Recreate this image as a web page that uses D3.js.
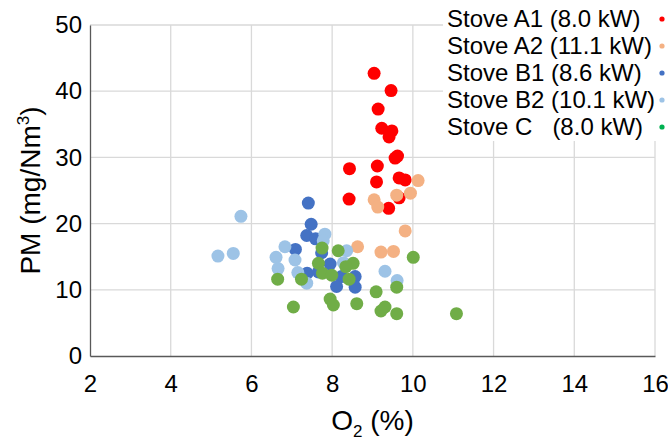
<!DOCTYPE html>
<html lang="en">
  <head>
    <meta charset="utf-8">
    <title>PM vs O2</title>
    <script src="https://d3js.org/d3.v7.min.js"></script>
    <style>
      body { margin: 0; background: #fff; }
      text { font-family: "Liberation Sans", Arial, sans-serif; fill: #000; }
    </style>
  </head>
  <body>
    <script type="text/javascript">

      var w = 668;
      var h = 441;
      var margin = {top: 25, right: 13, bottom: 85, left: 90};

      // series: [O2 %, PM mg/Nm3]
      var stoveA1 = [[9.04,42.7],[9.46,40.1],[9.14,37.3],[9.23,34.4],[9.48,34.0],[9.41,33.1],
                     [9.62,30.2],[9.56,29.9],[8.43,28.3],[9.12,28.7],[9.66,26.9],[9.81,26.6],
                     [9.10,26.3],[8.42,23.7],[9.66,23.9],[9.40,22.3]];
      var stoveA2 = [[10.13,26.5],[9.94,24.6],[9.60,24.3],[9.04,23.6],[9.13,22.5],[9.81,18.9],
                     [8.63,16.5],[9.21,15.7],[9.52,15.8]];
      var stoveB1 = [[7.41,23.1],[7.48,19.9],[7.37,18.2],[7.59,17.7],[7.09,16.1],[7.74,15.6],
                     [7.95,13.9],[7.38,12.5],[7.66,12.7],[8.23,12.0],[8.57,12.0],[8.11,10.5],
                     [8.57,10.4]];
      var stoveB2 = [[5.74,21.1],[5.55,15.5],[5.17,15.1],[6.83,16.5],[6.61,14.9],[6.66,13.2],
                     [7.08,14.5],[7.15,12.6],[7.37,11.0],[7.82,18.4],[7.78,17.4],[8.36,15.9],
                     [8.28,14.1],[9.31,12.8],[9.61,11.4]];
      var stoveC  = [[6.65,11.6],[7.24,11.6],[7.04,7.4],[7.75,16.3],[8.15,15.9],[7.66,14.0],
                     [8.52,14.0],[8.34,13.5],[7.76,12.5],[7.99,12.2],[8.42,11.6],[10.01,14.9],
                     [9.09,9.7],[9.60,10.4],[7.95,8.6],[8.03,7.7],[8.61,7.9],[9.31,7.4],
                     [9.21,6.8],[9.60,6.4],[11.08,6.4]];

      var seriesNames = ["Stove A1 (8.0 kW)", "Stove A2 (11.1 kW)", "Stove B1 (8.6 kW)",
                         "Stove B2 (10.1 kW)", "Stove C\u00a0\u00a0\u00a0(8.0 kW)"];
      var xTicks = [2, 4, 6, 8, 10, 12, 14, 16];
      var yTicks = [0, 10, 20, 30, 40, 50];

      var pointColors = ["#ff0000", "#f4b183", "#4472c4", "#9dc3e6", "#70ad47"];
      var legendColors = ["#ff0000", "#f4b183", "#4472c4", "#9dc3e6", "#00b050"];

      var allSeries = [stoveA1, stoveA2, stoveB1, stoveB2, stoveC];

      var svg = d3.select("body")
                  .append("svg")
                  .attr("width", w)
                  .attr("height", h);

      var x_scale = d3.scaleLinear()
                      .domain([2, 16])
                      .range([margin.left, w - margin.right]);

      var y_scale = d3.scaleLinear()
                      .domain([0, 50])
                      .range([h - margin.bottom, margin.top]);

      // gridlines
      svg.selectAll(".vgrid")
         .data(xTicks.slice(1))
         .enter()
         .append("line")
         .attr("x1", d => x_scale(d))
         .attr("x2", d => x_scale(d))
         .attr("y1", y_scale(0))
         .attr("y2", y_scale(50))
         .attr("stroke", "#d9d9d9")
         .attr("stroke-width", 1.3);

      svg.selectAll(".hgrid")
         .data(yTicks.slice(1))
         .enter()
         .append("line")
         .attr("x1", x_scale(2))
         .attr("x2", x_scale(16))
         .attr("y1", d => y_scale(d))
         .attr("y2", d => y_scale(d))
         .attr("stroke", "#d9d9d9")
         .attr("stroke-width", 1.3);

      // axes
      var x_axis = d3.axisBottom(x_scale).tickValues(xTicks).tickSize(0).tickPadding(19);
      var y_axis = d3.axisLeft(y_scale).tickValues(yTicks).tickSize(0).tickPadding(8);

      var gx = svg.append("g")
         .attr("transform", "translate(0," + y_scale(0) + ")")
         .call(x_axis);
      var gy = svg.append("g")
         .attr("transform", "translate(" + x_scale(2) + ",0)")
         .call(y_axis);

      [gx, gy].forEach(function(g) {
        g.select(".domain").attr("stroke", "#595959").attr("stroke-width", 1.3);
        g.selectAll("text")
         .style("font-family", "'Liberation Sans', Arial, sans-serif")
         .style("font-size", "24px")
         .attr("fill", "#000");
      });
      gx.selectAll("text").attr("dy", "0.71em");

      // points
      allSeries.forEach(function(series, i) {
        svg.append("g")
           .selectAll("circle")
           .data(series)
           .enter()
           .append("circle")
           .attr("cx", d => x_scale(d[0]))
           .attr("cy", d => y_scale(d[1]))
           .attr("r", 6.5)
           .attr("fill", pointColors[i]);
      });

      // axis titles
      var xt = svg.append("text")
         .attr("x", (x_scale(2) + x_scale(16)) / 2)
         .attr("y", 430)
         .attr("text-anchor", "middle")
         .style("font-size", "28px");
      xt.append("tspan").text("O");
      xt.append("tspan").attr("dy", 7).style("font-size", "17px").text("2");
      xt.append("tspan").attr("dy", -7).text(" (%)");

      var yt = svg.append("text")
         .attr("transform", "translate(40," + ((y_scale(0) + y_scale(50)) / 2) + ") rotate(-90)")
         .attr("text-anchor", "middle")
         .style("font-size", "28px");
      yt.append("tspan").text("PM (mg/Nm");
      yt.append("tspan").attr("dy", -11).style("font-size", "17px").text("3");
      yt.append("tspan").attr("dy", 11).text(")");

      // legend
      var legend = svg.append("g");
      legend.append("rect")
            .attr("x", 443)
            .attr("y", 0)
            .attr("width", w - 443)
            .attr("height", 141)
            .attr("fill", "#fff");

      var rows = legend.selectAll(".row")
            .data(seriesNames)
            .enter()
            .append("g")
            .attr("transform", (d, i) => "translate(0," + (19 + i * 27) + ")");

      rows.append("text")
          .attr("x", 447)
          .attr("dy", "0.35em")
          .style("font-size", "24px")
          .text(d => d);

      rows.append("circle")
          .attr("cx", 662)
          .attr("cy", 0)
          .attr("r", 2.6)
          .attr("fill", (d, i) => legendColors[i]);

    </script>
  </body>
</html>
